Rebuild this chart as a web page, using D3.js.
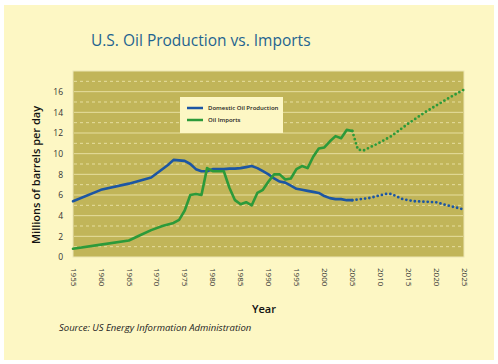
<!DOCTYPE html>
<html>
<head>
<meta charset="utf-8">
<script src="https://cdn.jsdelivr.net/npm/d3@7"></script>
<style>
  body { margin: 0; background: #fff; }
  text { font-family: "Open Sans", "Noto Sans", sans-serif; }
</style>
</head>
<body>
<div id="chart"></div>
<script>
const width = 498, height = 364;

// domestic oil production, millions of barrels per day
var prodYears = [1955, 1960, 1965, 1969, 1972, 1973, 1975, 1976, 1977, 1978, 1979, 1980, 1981, 1982, 1983, 1984, 1985, 1986, 1987, 1988, 1989, 1990, 1991, 1992, 1993, 1994, 1995, 1996, 1997, 1998, 1999, 2000, 2001, 2002, 2003, 2004, 2005];
var prodValues = [5.4, 6.5, 7.1, 7.7, 8.9, 9.4, 9.3, 9.0, 8.5, 8.3, 8.3, 8.5, 8.5, 8.5, 8.55, 8.55, 8.6, 8.7, 8.8, 8.6, 8.3, 8.0, 7.6, 7.3, 7.2, 6.9, 6.6, 6.5, 6.4, 6.3, 6.2, 5.9, 5.7, 5.6, 5.6, 5.5, 5.5];
var prodProjYears = [2005, 2008, 2011, 2012, 2014, 2016, 2020, 2022, 2025];
var prodProjValues = [5.5, 5.7, 6.1, 6.1, 5.6, 5.4, 5.3, 5.0, 4.6];

// oil imports
var impYears = [1955, 1960, 1965, 1967, 1969, 1971, 1973, 1974, 1975, 1976, 1977, 1978, 1979, 1980, 1981, 1982, 1983, 1984, 1985, 1986, 1987, 1988, 1989, 1990, 1991, 1992, 1993, 1994, 1995, 1996, 1997, 1998, 1999, 2000, 2001, 2002, 2003, 2004, 2005];
var impValues = [0.8, 1.2, 1.6, 2.1, 2.6, 3.0, 3.3, 3.6, 4.5, 6.0, 6.1, 6.0, 8.6, 8.3, 8.3, 8.3, 6.7, 5.5, 5.1, 5.3, 5.0, 6.2, 6.5, 7.3, 8.0, 8.0, 7.5, 7.6, 8.5, 8.8, 8.6, 9.7, 10.5, 10.6, 11.2, 11.7, 11.5, 12.3, 12.2];
var impProjYears = [2005, 2006, 2007, 2010, 2012, 2015, 2018, 2022, 2025];
var impProjValues = [12.2, 10.4, 10.3, 11.1, 11.7, 12.9, 14.0, 15.3, 16.2];

var xTicks = [1955, 1960, 1965, 1970, 1975, 1980, 1985, 1990, 1995, 2000, 2005, 2010, 2015, 2020, 2025];
var yTicks = [0, 2, 4, 6, 8, 10, 12, 14, 16];
var legendText = ["Domestic Oil Production", "Oil Imports"];
var legendColor = ["#1c56a3", "#2c9a3a"];

const plot = {left: 73, right: 464, top: 71, bottom: 257};

const svg = d3.select("#chart").append("svg")
    .attr("width", width)
    .attr("height", height);

// cream panel
svg.append("rect")
    .attr("x", 4).attr("y", 5)
    .attr("width", 490).attr("height", 355)
    .style("fill", "#fdf7c4");

const x = d3.scaleLinear().domain([1955, 2025]).range([plot.left, plot.right]);
const y = d3.scaleLinear().domain([0, 18]).range([plot.bottom, plot.top]);

svg.append("rect")
    .attr("x", plot.left).attr("y", plot.top)
    .attr("width", plot.right - plot.left).attr("height", plot.bottom - plot.top)
    .style("fill", "#c1b559")
    .style("stroke", "#ece6b4")
    .style("stroke-width", 1);

// grid: solid on even values, dashed on odd
svg.append("g").selectAll("line")
    .data(d3.range(1, 18))
    .enter()
    .append("line")
    .attr("x1", plot.left + 1).attr("x2", plot.right - 1)
    .attr("y1", d => y(d)).attr("y2", d => y(d))
    .style("stroke", "#e6de9e")
    .style("stroke-width", 1)
    .style("stroke-dasharray", d => d % 2 ? "3,3" : null);

const yAxis = svg.append("g")
    .attr("transform", "translate(" + (plot.left - 10) + ",0)")
    .call(d3.axisLeft(y).tickValues(yTicks).tickSize(0).tickPadding(0));
yAxis.select(".domain").remove();
yAxis.selectAll("text")
    .style("font-size", "8.5px")
    .style("fill", "#333")
    .attr("dy", "0.35em");

const xAxis = svg.append("g")
    .attr("transform", "translate(0," + (plot.bottom + 11) + ")")
    .call(d3.axisBottom(x).tickValues(xTicks).tickFormat(d3.format("d")).tickSize(0).tickPadding(0));
xAxis.select(".domain").remove();
xAxis.selectAll("text")
    .attr("transform", "rotate(90)")
    .attr("x", 0).attr("y", 0)
    .attr("dy", "0.35em")
    .style("text-anchor", "start")
    .style("font-size", "8px")
    .style("fill", "#333");

const line = d3.line()
    .x(d => x(d[0]))
    .y(d => y(d[1]));

function drawSeries(years, values, color, dotted) {
    svg.append("path")
        .datum(d3.zip(years, values))
        .attr("d", line)
        .style("fill", "none")
        .style("stroke", color)
        .style("stroke-width", dotted ? 2.8 : 2.6)
        .style("stroke-linejoin", "round")
        .style("stroke-linecap", "round")
        .style("stroke-dasharray", dotted ? "0,4.3" : null);
}

drawSeries(prodYears, prodValues, legendColor[0], false);
drawSeries(prodProjYears, prodProjValues, legendColor[0], true);
drawSeries(impYears, impValues, legendColor[1], false);
drawSeries(impProjYears, impProjValues, legendColor[1], true);

// legend
const legend = svg.append("g");
legend.append("rect")
    .attr("x", 180).attr("y", 97)
    .attr("width", 103).attr("height", 36)
    .style("fill", "#fdf7c4");
legend.selectAll("lines")
    .data(legendColor)
    .enter()
    .append("line")
    .attr("x1", 187).attr("x2", 203)
    .attr("y1", (d, i) => 108 + i * 12).attr("y2", (d, i) => 108 + i * 12)
    .style("stroke", d => d)
    .style("stroke-width", 2.5);
legend.selectAll("labels")
    .data(legendText)
    .enter()
    .append("text")
    .attr("x", 208)
    .attr("y", (d, i) => 108 + i * 12)
    .attr("dy", "0.35em")
    .style("font-size", "6px")
    .style("font-weight", "600")
    .style("fill", "#222")
    .text(d => d);

// titles
svg.append("text")
    .attr("x", 91).attr("y", 46)
    .style("font-size", "15.5px")
    .style("fill", "#1f6490")
    .text("U.S. Oil Production vs. Imports");

svg.append("text")
    .attr("transform", "translate(40,175) rotate(-90)")
    .attr("text-anchor", "middle")
    .style("font-size", "11px")
    .style("font-weight", "600")
    .style("fill", "#111")
    .text("Millions of barrels per day");

svg.append("text")
    .attr("x", 264).attr("y", 313)
    .attr("text-anchor", "middle")
    .style("font-size", "11px")
    .style("font-weight", "600")
    .style("fill", "#111")
    .text("Year");

svg.append("text")
    .attr("x", 59).attr("y", 331)
    .style("font-size", "9.5px")
    .style("font-style", "italic")
    .style("fill", "#222")
    .text("Source:  US Energy Information Administration");
</script>
</body>
</html>
